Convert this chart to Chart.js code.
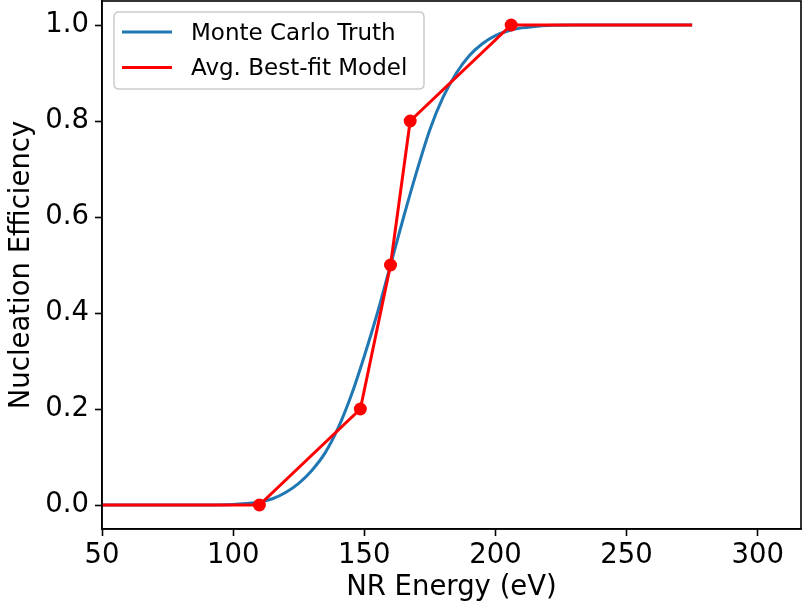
<!DOCTYPE html>
<html>
<head>
<meta charset="utf-8">
<script src="https://cdn.jsdelivr.net/npm/chart.js@4/dist/chart.umd.min.js"></script>
<style>
  html, body { margin: 0; padding: 0; background: #fff; }
  canvas { display: block; }
</style>
</head>
<body>
<canvas id="c" width="803" height="610"></canvas>
<script>
// ---- Data ----
const truthEnergy = [50, 60, 70, 80, 90, 100, 105, 110, 115, 120, 125, 130, 135, 140, 145, 150, 155, 160, 165, 170, 175, 180, 185, 190, 195, 200, 205, 210, 215, 220, 230, 240, 250, 260, 275];
const truthEff    = [0, 0, 0, 0, 0, 0.001, 0.003, 0.006, 0.013, 0.026, 0.045, 0.072, 0.108, 0.16, 0.228, 0.31, 0.40, 0.50, 0.60, 0.695, 0.782, 0.849, 0.899, 0.936, 0.961, 0.978, 0.988, 0.994, 0.997, 0.999, 1, 1, 1, 1, 1];

const modelEnergy = [50, 110, 148.5, 160, 167.5, 206, 275];
const modelEff    = [0, 0, 0.2, 0.5, 0.8, 1.0, 1.0];
const modelMarked = [false, true, true, true, true, true, false];

const xTicks = [50, 100, 150, 200, 250, 300];
const yTicks = [0.0, 0.2, 0.4, 0.6, 0.8, 1.0];

const seriesLabels = ['Monte Carlo Truth', 'Avg. Best-fit Model'];
const xTitle = 'NR Energy (eV)';
const yTitle = 'Nucleation Efficiency';

// ---- Styles ----
const BLUE = '#1f77b4';
const RED = '#ff0000';
const FONT = 'DejaVu Sans';

const truthPoints = truthEnergy.map((e, i) => ({ x: e, y: truthEff[i] }));
const modelPoints = modelEnergy.map((e, i) => ({ x: e, y: modelEff[i] }));

const framePlugin = {
  id: 'frame',
  afterDatasetsDraw(chart) {
    const { ctx, chartArea: a } = chart;
    ctx.save();
    ctx.strokeStyle = '#000';
    ctx.lineWidth = 1.6;
    ctx.strokeRect(a.left, a.top, a.right - a.left, a.bottom - a.top);
    ctx.restore();
  },
  afterDraw(chart) {
    const ctx = chart.ctx;
    ctx.save();
    // legend box
    const bx = 114, by = 12, bw = 310, bh = 77, r = 5;
    ctx.beginPath();
    ctx.moveTo(bx + r, by);
    ctx.lineTo(bx + bw - r, by);
    ctx.quadraticCurveTo(bx + bw, by, bx + bw, by + r);
    ctx.lineTo(bx + bw, by + bh - r);
    ctx.quadraticCurveTo(bx + bw, by + bh, bx + bw - r, by + bh);
    ctx.lineTo(bx + r, by + bh);
    ctx.quadraticCurveTo(bx, by + bh, bx, by + bh - r);
    ctx.lineTo(bx, by + r);
    ctx.quadraticCurveTo(bx, by, bx + r, by);
    ctx.closePath();
    ctx.fillStyle = 'rgba(255,255,255,0.8)';
    ctx.fill();
    ctx.strokeStyle = '#cccccc';
    ctx.lineWidth = 1.5;
    ctx.stroke();

    const colors = [BLUE, RED];
    const lineY = [32, 67.5];
    const textBase = [39.5, 74.5];
    ctx.font = '23px "' + FONT + '"';
    ctx.textAlign = 'left';
    ctx.textBaseline = 'alphabetic';
    for (let i = 0; i < seriesLabels.length; i++) {
      ctx.beginPath();
      ctx.moveTo(122, lineY[i]);
      ctx.lineTo(172, lineY[i]);
      ctx.strokeStyle = colors[i];
      ctx.lineWidth = 3;
      ctx.stroke();
      ctx.fillStyle = '#000';
      ctx.fillText(seriesLabels[i], 191, textBase[i]);
    }
    ctx.restore();
  }
};

new Chart(document.getElementById('c'), {
  type: 'line',
  data: {
    datasets: [
      {
        label: seriesLabels[0],
        data: truthPoints,
        borderColor: BLUE,
        backgroundColor: BLUE,
        borderWidth: 3,
        pointRadius: 0,
        cubicInterpolationMode: 'monotone',
        fill: false,
        order: 2
      },
      {
        label: seriesLabels[1],
        data: modelPoints,
        borderColor: RED,
        backgroundColor: RED,
        borderWidth: 3,
        pointRadius: modelMarked.map(m => m ? 6.5 : 0),
        pointBackgroundColor: RED,
        pointBorderWidth: 0,
        tension: 0,
        fill: false,
        order: 1
      }
    ]
  },
  options: {
    responsive: false,
    devicePixelRatio: 1,
    animation: false,
    layout: { padding: { left: 0, right: 2, top: 1, bottom: 0 } },
    plugins: { legend: { display: false }, tooltip: { enabled: false } },
    scales: {
      x: {
        type: 'linear',
        position: 'bottom',
        min: 50,
        max: 316.5,
        afterBuildTicks: s => { s.ticks = xTicks.map(v => ({ value: v })); },
        afterFit: s => { s.height = 81; s.paddingLeft = 0; s.paddingRight = 0; },
        ticks: {
          font: { family: FONT, size: 27.5 },
          color: '#000',
          padding: 3,
          maxRotation: 0,
          autoSkip: false,
          callback: v => String(v)
        },
        grid: { display: true, drawOnChartArea: false, drawTicks: true, tickLength: 7, tickWidth: 1.6, tickColor: '#000' },
        border: { display: true, color: '#000', width: 1.6 },
        title: {
          display: true,
          text: xTitle,
          color: '#000',
          font: { family: FONT, size: 27.5, lineHeight: 1.2 },
          padding: { top: 0, bottom: 6 }
        }
      },
      y: {
        type: 'linear',
        min: -0.05,
        max: 1.05,
        afterBuildTicks: s => { s.ticks = yTicks.map(v => ({ value: v })); },
        afterFit: s => { s.width = 102; s.paddingTop = 0; s.paddingBottom = 0; },
        ticks: {
          font: { family: FONT, size: 27.5 },
          color: '#000',
          padding: 6,
          autoSkip: false,
          callback: v => v.toFixed(1)
        },
        grid: { display: true, drawOnChartArea: false, drawTicks: true, tickLength: 7, tickWidth: 1.6, tickColor: '#000' },
        border: { display: true, color: '#000', width: 1.6 },
        title: {
          display: true,
          text: yTitle,
          color: '#000',
          font: { family: FONT, size: 27.5, lineHeight: 1.2 },
          padding: { top: 5, bottom: 0 }
        }
      }
    }
  },
  plugins: [framePlugin]
});
</script>
</body>
</html>
